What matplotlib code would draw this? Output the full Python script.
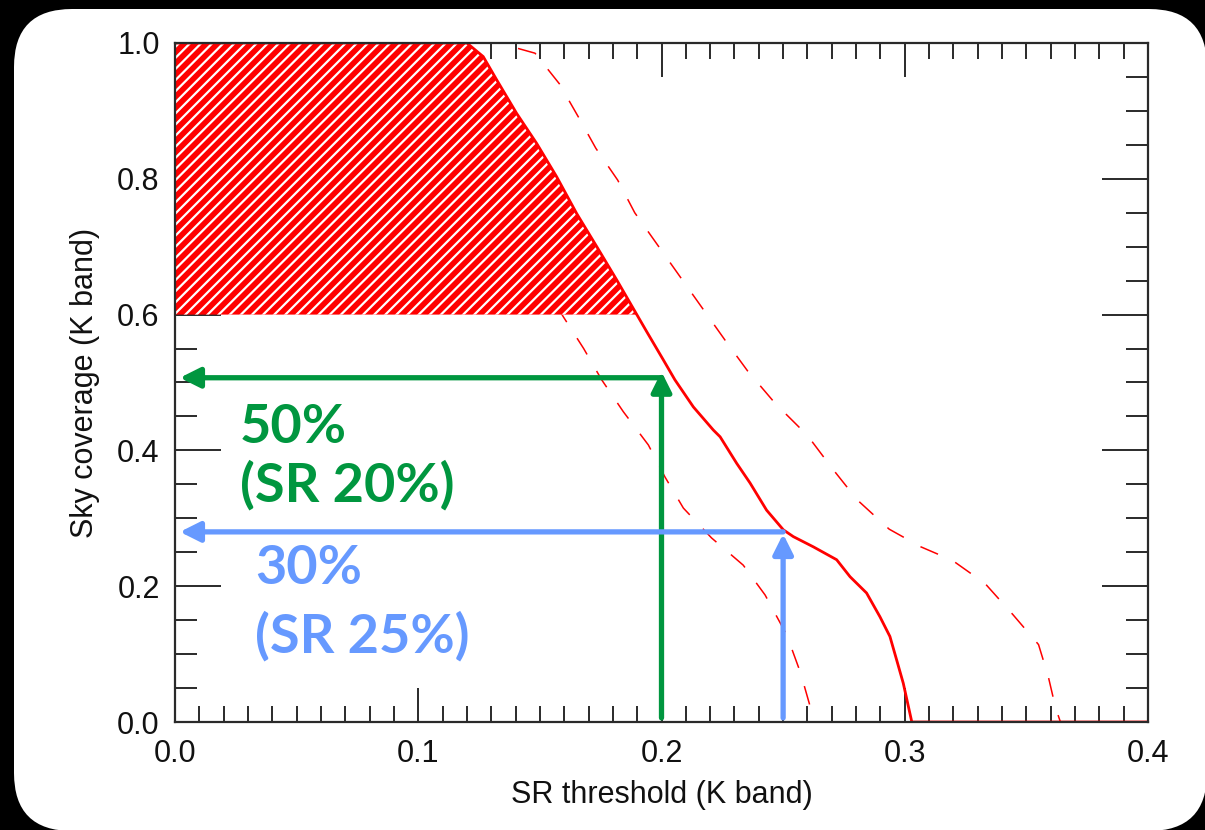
import numpy as np
import matplotlib
matplotlib.use("Agg")
import matplotlib.pyplot as plt
from matplotlib.patches import FancyBboxPatch
from matplotlib.transforms import IdentityTransform
from matplotlib.ticker import MultipleLocator, FixedLocator, FixedFormatter

# ---------------- data ----------------
main_x = [0.0, 0.12, 0.1267, 0.1322, 0.1405, 0.1487, 0.1569, 0.1651, 0.1734, 0.1816,
          0.1871, 0.1939, 0.2008, 0.2055, 0.2131, 0.2213, 0.2241, 0.2309, 0.2364,
          0.2432, 0.2501, 0.2542, 0.2624, 0.2720, 0.2775, 0.2843, 0.2898, 0.2939,
          0.2967, 0.2994, 0.3029, 0.4]
main_y = [1.0, 1.0, 0.980, 0.946, 0.896, 0.852, 0.803, 0.749, 0.700, 0.651,
          0.617, 0.575, 0.533, 0.504, 0.464, 0.430, 0.420, 0.381, 0.352,
          0.312, 0.283, 0.273, 0.258, 0.239, 0.214, 0.190, 0.155, 0.126,
          0.091, 0.057, 0.0, 0.0]

upper_x = [0.0, 0.133, 0.148, 0.158, 0.166, 0.173, 0.182, 0.189, 0.2167, 0.226,
           0.2354, 0.2468, 0.260, 0.2705, 0.2805, 0.2936, 0.3066, 0.3196, 0.333,
           0.3445, 0.355, 0.359, 0.362, 0.364]
upper_y = [1.0, 1.0, 0.985, 0.940, 0.890, 0.845, 0.798, 0.750, 0.610, 0.563,
           0.517, 0.469, 0.422, 0.372, 0.327, 0.284, 0.258, 0.238, 0.204,
           0.158, 0.114, 0.067, 0.021, 0.0]

lower_x = [0.0, 0.095, 0.107, 0.133, 0.1596, 0.168, 0.1754, 0.1843, 0.1946, 0.2014,
           0.209, 0.2206, 0.2336, 0.2426, 0.2515, 0.2572, 0.2611, 0.262]
lower_y = [1.0, 1.0, 0.945, 0.760, 0.597, 0.550, 0.504, 0.457, 0.408, 0.361,
           0.315, 0.271, 0.231, 0.187, 0.128, 0.072, 0.023, 0.0]

hatch_floor = 0.6

green_sr, green_cov = 0.2, 0.507
blue_sr, blue_cov = 0.25, 0.280

xticks = [0.0, 0.1, 0.2, 0.3, 0.4]
xtick_labels = ["0.0", "0.1", "0.2", "0.3", "0.4"]
yticks = [0.0, 0.2, 0.4, 0.6, 0.8, 1.0]
ytick_labels = ["0.0", "0.2", "0.4", "0.6", "0.8", "1.0"]

green_text = ["50%", "(SR 20%)"]
blue_text = ["30%", "(SR 25%)"]

# ---------------- style ----------------
RED = "#FF0000"
GREEN = "#00963F"
BLUE = "#6699FF"
AX = "#2a2a2a"

plt.rcParams["font.family"] = ["Liberation Sans", "DejaVu Sans"]
plt.rcParams["hatch.color"] = "white"
plt.rcParams["hatch.linewidth"] = 1.6

W, H = 1205, 830
fig = plt.figure(figsize=(W / 100, H / 100), dpi=100, facecolor="black")

# white rounded panel (pixel coordinates)
panel = FancyBboxPatch((14, -1), 1193, 822, boxstyle="round,pad=0,rounding_size=58",
                       transform=IdentityTransform(), facecolor="white",
                       edgecolor="none", zorder=0)
fig.add_artist(panel)

L, R, T, B = 175, 1148, 43, 722
ax = fig.add_axes([L / W, 1 - B / H, (R - L) / W, (B - T) / H])
ax.set_facecolor("none")
ax.set_xlim(0, 0.4)
ax.set_ylim(0, 1.0)

# curves
ax.plot(lower_x, lower_y, color=RED, lw=1.1, dashes=(12.5, 12.5), zorder=2)
ax.plot(upper_x, upper_y, color=RED, lw=1.1, dashes=(12.5, 12.5), zorder=2)

mx = np.array(main_x)
my = np.array(main_y)
ax.fill_between(mx, my, hatch_floor, where=my >= hatch_floor, interpolate=True,
                facecolor=RED, edgecolor="white", linewidth=0, hatch="///", zorder=3)
ax.plot(main_x, main_y, color=RED, lw=2.0, zorder=4)

# arrows
def arrow(x0, y0, x1, y1, color):
    ax.annotate("", xy=(x1, y1), xytext=(x0, y0),
                arrowprops=dict(arrowstyle="-|>,head_length=0.6,head_width=0.3",
                                mutation_scale=20, color=color, lw=3.8,
                                shrinkA=0, shrinkB=0),
                zorder=5)

arrow(green_sr, 0.006, green_sr, main_y[12] - 0.017, GREEN)
arrow(green_sr, green_cov, 0.002, green_cov, GREEN)
arrow(blue_sr, 0.006, blue_sr, blue_cov - 0.003, BLUE)
arrow(blue_sr, blue_cov, 0.002, blue_cov, BLUE)

tfont = dict(family=["Lato", "DejaVu Sans"], fontweight="bold", fontsize=39)
ax.text(0.0267, 0.411, green_text[0], color=GREEN, va="baseline", ha="left", **tfont)
ax.text(0.0267, 0.324, green_text[1], color=GREEN, va="baseline", ha="left", **tfont)
ax.text(0.0329, 0.203, blue_text[0], color=BLUE, va="baseline", ha="left", **tfont)
ax.text(0.0329, 0.102, blue_text[1], color=BLUE, va="baseline", ha="left", **tfont)

# axes styling
for s in ax.spines.values():
    s.set_color(AX)
    s.set_linewidth(1.6)
    s.set_zorder(6)

ax.xaxis.set_major_locator(FixedLocator(xticks))
ax.xaxis.set_major_formatter(FixedFormatter(xtick_labels))
ax.yaxis.set_major_locator(FixedLocator(yticks))
ax.yaxis.set_major_formatter(FixedFormatter(ytick_labels))
ax.xaxis.set_minor_locator(MultipleLocator(0.01))
ax.yaxis.set_minor_locator(MultipleLocator(0.05))

ax.tick_params(axis="both", which="both", direction="in", colors=AX, width=1.4,
               top=True, right=True, labelsize=22, labelcolor="#111111")
ax.tick_params(axis="x", which="major", length=24.5, pad=12)
ax.tick_params(axis="x", which="minor", length=11.5)
ax.tick_params(axis="y", which="major", length=33, pad=11)
ax.tick_params(axis="y", which="minor", length=16)

ax.set_xlabel("SR threshold (K band)", fontsize=22, labelpad=8, color="#111111")
ax.set_ylabel("Sky coverage (K band)", fontsize=22, labelpad=12, color="#111111")

fig.savefig("out.png", dpi=100, facecolor="black")
